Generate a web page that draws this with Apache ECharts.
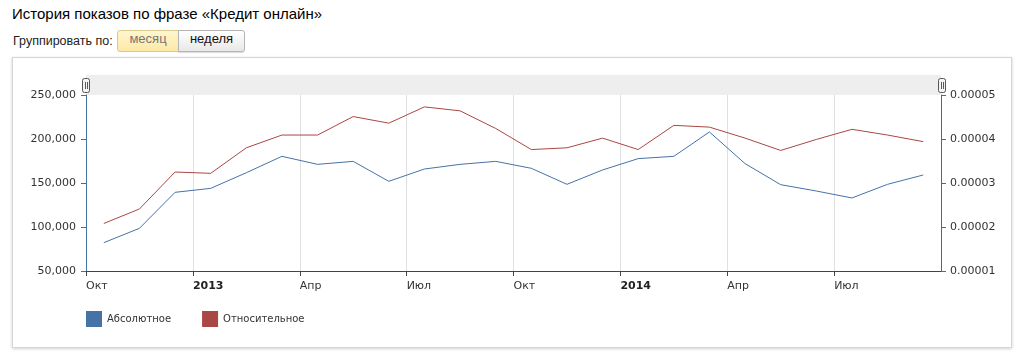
<!DOCTYPE html>
<html>
<head>
<meta charset="utf-8">
<script src="https://cdn.jsdelivr.net/npm/echarts@6/dist/echarts.min.js"></script>
<style>
  html, body { margin: 0; padding: 0; background: #fff; width: 1024px; height: 357px; overflow: hidden; }
  #title { position: absolute; left: 12px; top: 5px; font: 15px "Liberation Sans", Arial, sans-serif; color: #000; white-space: nowrap; }
  #group { position: absolute; left: 13px; top: 34px; font: 12.5px "Liberation Sans", Arial, sans-serif; color: #222; white-space: nowrap; }
  .btn { position: absolute; top: 30px; height: 22px; line-height: 21px; text-align: center; font: 13px "Liberation Sans", Arial, sans-serif; box-sizing: border-box; border: 1px solid #b5b5b5; }
  #b1 { left: 117px; width: 62px; background: linear-gradient(#fff6cf, #fde9a6); color: #777; border-color: #d8c98e; border-radius: 3px 0 0 3px; }
  #b2 { left: 178px; width: 67px; background: linear-gradient(#ffffff, #e8e8e8); color: #111; border-radius: 0 3px 3px 0; box-shadow: 0 1px 1px rgba(0,0,0,0.15); }
  #box { position: absolute; left: 12px; top: 57px; width: 1000px; height: 291px; box-sizing: border-box; border: 1px solid #d6d6d6; box-shadow: 0 1px 3px rgba(0,0,0,0.18); background: #fff; }
  #chart { position: absolute; left: 0; top: 0; width: 1024px; height: 357px; }
</style>
</head>
<body>
<div id="title">История показов по фразе «Кредит онлайн»</div>
<div id="group">Группировать по:</div>
<div class="btn" id="b1">месяц</div>
<div class="btn" id="b2">неделя</div>
<div id="box"></div>
<div id="chart"></div>
<script>
// Months (one point per month, Oct 2012 – Sep 2014)
const months = ['2012-10','2012-11','2012-12','2013-01','2013-02','2013-03','2013-04','2013-05','2013-06','2013-07','2013-08','2013-09',
                '2013-10','2013-11','2013-12','2014-01','2014-02','2014-03','2014-04','2014-05','2014-06','2014-07','2014-08','2014-09'];
// Absolute impressions
const absoluteValues = [82200, 98500, 139400, 143900, 161700, 180300, 171200, 174600, 151900, 165900, 171200, 174600,
                        166700, 148500, 164800, 177700, 180300, 208000, 172000, 148100, 140900, 133000, 148500, 159100];
// Relative share
const relativeValues = [0.0000208, 0.0000241, 0.0000325, 0.0000322, 0.0000380, 0.0000409, 0.0000409, 0.0000451, 0.0000436, 0.0000473, 0.0000464, 0.0000424,
                        0.0000376, 0.0000380, 0.0000402, 0.0000376, 0.0000431, 0.0000427, 0.0000402, 0.0000374, 0.0000399, 0.0000422, 0.0000409, 0.0000394];
// Quarter tick labels (every 3 months starting Oct 2012)
const tickLabels = ['Окт', '2013', 'Апр', 'Июл', 'Окт', '2014', 'Апр', 'Июл', ''];
const boldTicks = ['2013', '2014'];
const seriesNames = ['Абсолютное', 'Относительное'];

const chart = echarts.init(document.getElementById('chart'), null, { renderer: 'canvas' });
const toPts = arr => arr.map((v, i) => [i + 0.5, v]);
const font = '"DejaVu Sans", Verdana, sans-serif';

chart.setOption({
  animation: false,
  backgroundColor: 'transparent',
  textStyle: { fontFamily: font },
  grid: { left: 86, right: 83, top: 95, bottom: 86, containLabel: false },
  legend: {
    left: 81, top: 306, icon: 'rect', itemWidth: 16, itemHeight: 16, itemGap: 31,
    textStyle: { fontFamily: font, fontSize: 10, color: '#333' },
    data: seriesNames
  },
  graphic: [
    { type: 'rect', shape: { x: 86, y: 75, width: 855, height: 20 }, style: { fill: '#eeeeee' }, z: -1 },
    { type: 'rect', shape: { x: 82.5, y: 78.5, width: 7, height: 14, r: 2 }, style: { fill: '#f4f4f4', stroke: '#555', lineWidth: 1 } },
    { type: 'rect', shape: { x: 85, y: 82, width: 0.8, height: 7 }, style: { fill: '#333' } },
    { type: 'rect', shape: { x: 87, y: 82, width: 0.8, height: 7 }, style: { fill: '#333' } },
    { type: 'rect', shape: { x: 938.5, y: 78.5, width: 7, height: 14, r: 2 }, style: { fill: '#f4f4f4', stroke: '#555', lineWidth: 1 } },
    { type: 'rect', shape: { x: 941, y: 82, width: 0.8, height: 7 }, style: { fill: '#333' } },
    { type: 'rect', shape: { x: 943, y: 82, width: 0.8, height: 7 }, style: { fill: '#333' } }
  ],
  xAxis: {
    type: 'value', min: 0, max: 24, interval: 3,
    axisLine: { show: true, lineStyle: { color: '#444', width: 1 } },
    axisTick: { show: true, length: 5, lineStyle: { color: '#444' } },
    splitLine: { show: true, lineStyle: { color: '#e0e0e0', width: 1 } },
    axisLabel: {
      align: 'left', margin: 10, fontSize: 11, color: '#333', fontFamily: font,
      showMaxLabel: false,
      formatter: v => {
        const t = tickLabels[Math.round(v / 3)] || '';
        return boldTicks.includes(t) ? '{b|' + t + '}' : t;
      },
      rich: { b: { fontWeight: 'bold', fontSize: 11, color: '#222', fontFamily: font } }
    }
  },
  yAxis: [
    {
      type: 'value', min: 50000, max: 250000, interval: 50000, position: 'left',
      axisLine: { show: true, lineStyle: { color: '#4572A7', width: 1 } },
      axisTick: { show: true, length: 5, lineStyle: { color: '#666' } },
      splitLine: { show: false },
      axisLabel: { fontSize: 11, color: '#333', margin: 10, fontFamily: font,
        formatter: v => v.toLocaleString('en-US') }
    },
    {
      type: 'value', min: 0.00001, max: 0.00005, interval: 0.00001, position: 'right',
      axisLine: { show: true, lineStyle: { color: '#AA4643', width: 1 } },
      axisTick: { show: true, length: 5, lineStyle: { color: '#AA4643' } },
      splitLine: { show: false },
      axisLabel: { fontSize: 11, color: '#333', margin: 9, fontFamily: font,
        formatter: v => Number(v).toFixed(5) }
    }
  ],
  series: [
    { name: seriesNames[0], type: 'line', yAxisIndex: 0, data: toPts(absoluteValues), symbol: 'none',
      itemStyle: { color: '#4572A7' }, lineStyle: { color: '#4572A7', width: 1 } },
    { name: seriesNames[1], type: 'line', yAxisIndex: 1, data: toPts(relativeValues), symbol: 'none',
      itemStyle: { color: '#AA4643' }, lineStyle: { color: '#AA4643', width: 1 } }
  ]
});
</script>
</body>
</html>
